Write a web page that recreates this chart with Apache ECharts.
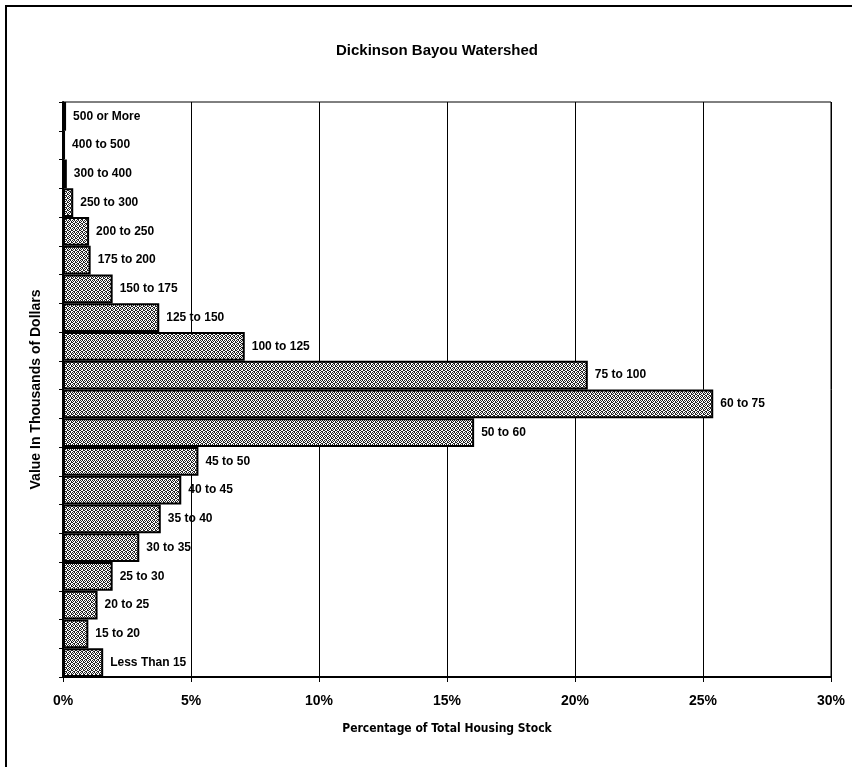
<!DOCTYPE html>
<html>
<head>
<meta charset="utf-8">
<script src="https://cdn.jsdelivr.net/npm/echarts@6/dist/echarts.min.js"></script>
<style>
  html, body { margin: 0; padding: 0; background: #fff; }
  #chart { width: 852px; height: 767px; }
</style>
</head>
<body>
<div id="chart"></div>
<script>
// Home value brackets (thousands of dollars), bottom to top
const categories = [
  'Less Than 15', '15 to 20', '20 to 25', '25 to 30', '30 to 35',
  '35 to 40', '40 to 45', '45 to 50', '50 to 60', '60 to 75',
  '75 to 100', '100 to 125', '125 to 150', '150 to 175', '175 to 200',
  '200 to 250', '250 to 300', '300 to 400', '400 to 500', '500 or More'
];
// Percentage of total housing stock in each bracket
const shares = [
  1.57, 0.99, 1.35, 1.94, 2.98,
  3.82, 4.62, 5.29, 16.06, 25.4,
  20.5, 7.1, 3.76, 1.94, 1.08,
  1.02, 0.4, 0.15, 0.08, 0.12
];
const xTicks = [0, 5, 10, 15, 20, 25, 30];

const sans = "'Liberation Sans', Arial, sans-serif";
const condensed = "'DejaVu Sans Condensed', 'Liberation Sans', sans-serif";

// Stippled grey fill for the bars
function stipple() {
  const c = document.createElement('canvas');
  c.width = 4; c.height = 4;
  const g = c.getContext('2d');
  g.fillStyle = '#fff';
  g.fillRect(0, 0, 4, 4);
  g.fillStyle = '#222';
  const dots = [[0,0],[2,0],[1,1],[3,1],[0,2],[3,2],[1,3],[2,3]];
  dots.forEach(([x, y]) => g.fillRect(x, y, 1, 1));
  return c;
}

const chart = echarts.init(document.getElementById('chart'), null, { renderer: 'canvas' });
chart.setOption({
  backgroundColor: '#fff',
  animation: false,
  title: {
    text: 'Dickinson Bayou Watershed',
    left: 432,
    textAlign: 'center',
    top: 38,
    textStyle: { fontFamily: sans, fontWeight: 'bold', fontSize: 15, color: '#000' }
  },
  graphic: [{
    type: 'rect',
    shape: { x: 6, y: 6, width: 900, height: 900 },
    style: { fill: 'none', stroke: '#000', lineWidth: 2 },
    silent: true
  }],
  grid: {
    left: 63, right: 21, top: 102, bottom: 90,
    show: true, borderColor: '#000', borderWidth: 1, backgroundColor: 'transparent'
  },
  xAxis: {
    type: 'value',
    min: xTicks[0],
    max: xTicks[xTicks.length - 1],
    interval: xTicks[1] - xTicks[0],
    name: 'Percentage of Total Housing Stock',
    nameLocation: 'middle',
    nameGap: 46,
    nameTextStyle: { fontFamily: condensed, fontWeight: 'bold', fontSize: 12, color: '#000' },
    axisLine: { show: true, lineStyle: { color: '#000', width: 2 } },
    axisTick: { show: true, length: 5, lineStyle: { color: '#000', width: 1 } },
    axisLabel: {
      formatter: '{value}%', margin: 17, color: '#000',
      fontFamily: sans, fontWeight: 'bold', fontSize: 14
    },
    splitLine: { show: true, lineStyle: { color: '#000', width: 1 } }
  },
  yAxis: {
    type: 'category',
    data: categories,
    name: 'Value In Thousands of Dollars',
    nameLocation: 'middle',
    nameGap: 20,
    nameRotate: 90,
    nameTextStyle: { fontFamily: sans, fontWeight: 'bold', fontSize: 14, color: '#000' },
    axisLine: { show: true, lineStyle: { color: '#000', width: 2 } },
    axisTick: { show: true, length: 4, lineStyle: { color: '#000', width: 1 } },
    axisLabel: { show: false },
    splitLine: { show: false }
  },
  series: [{
    type: 'bar',
    data: shares,
    barCategoryGap: 0,
    itemStyle: {
      color: { image: stipple(), repeat: 'repeat' },
      borderColor: '#000',
      borderWidth: 2
    },
    label: {
      show: true,
      position: 'right',
      distance: 7,
      formatter: '{b}',
      color: '#000',
      fontFamily: sans,
      fontWeight: 'bold',
      fontSize: 12
    }
  }]
});
</script>
</body>
</html>
